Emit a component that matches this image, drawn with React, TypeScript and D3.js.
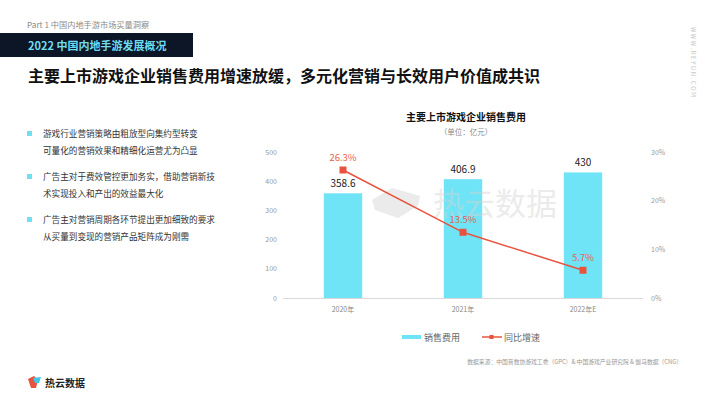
import React from "react";
import * as d3 from "d3";

const categories = ["2020年", "2021年", "2022年E"];
const salesCost = [358.6, 406.9, 430];
const growth = [26.3, 13.5, 5.7];
const leftTicks = [0, 100, 200, 300, 400, 500];
const rightTicks = [0, 10, 20, 30];
const bullets = [
  ["游戏行业营销策略由粗放型向集约型转变", "可量化的营销效果和精细化运营尤为凸显"],
  ["广告主对于费效管控更加务实，借助营销新技", "术实现投入和产出的效益最大化"],
  ["广告主对营销周期各环节提出更加细致的要求", "从买量到变现的营销产品矩阵成为刚需"],
];

const FONT = "'Noto Sans CJK SC', 'Noto Sans', sans-serif";
const CYAN = "#6fe4f6";
const RED = "#e9533e";

export default function App() {
  const x = d3.scaleBand<string>().domain(categories).range([283, 643]).paddingInner(0.68).paddingOuter(0.34);
  const yL = d3.scaleLinear().domain([0, 500]).range([298, 152]);
  const yR = d3.scaleLinear().domain([0, 30]).range([298, 152]);
  const cx = (c: string) => (x(c) as number) + x.bandwidth() / 2;
  const line = d3
    .line<number>()
    .x((_, i) => cx(categories[i]))
    .y((d) => yR(d));

  return (
    <svg
      width={710}
      height={399}
      style={{ position: "absolute", left: 0, top: 0, background: "#fff" }}
      fontFamily={FONT}
    >
      <rect width={710} height={399} fill="#fff" />
      {/* header */}
      <text x={27} y={28} fontSize={8.2} fill="#8a8a8a">Part 1  中国内地手游市场买量洞察</text>
      <rect x={0} y={33} width={193} height={24} fill="#0d1626" />
      <text x={28} y={49.5} fontSize={11} fontWeight={700} fill="#6fdcef">2022 中国内地手游发展概况</text>
      <text x={28} y={82} fontSize={16} fontWeight={700} fill="#111">
        主要上市游戏企业销售费用增速放缓，多元化营销与长效用户价值成共识
      </text>
      <text
        transform="translate(691,27) rotate(90)"
        fontSize={6}
        fill="#c8c8c8"
        letterSpacing={1.6}
      >
        WWW.REYUN.COM
      </text>

      {/* bullets */}
      {bullets.map((b, i) => (
        <g key={i}>
          <rect x={27} y={131 + i * 43} width={5} height={5} fill="#6fe0f2" />
          <text x={43} y={137 + i * 43} fontSize={8.6} fill="#333">{b[0]}</text>
          <text x={43} y={154 + i * 43} fontSize={8.6} fill="#333">{b[1]}</text>
        </g>
      ))}

      {/* chart title */}
      <text x={466} y={121} fontSize={10} fontWeight={700} fill="#111" textAnchor="middle">主要上市游戏企业销售费用</text>
      <text x={466} y={135} fontSize={7.5} fill="#888" textAnchor="middle">（单位：亿元）</text>

      {/* axes */}
      {leftTicks.map((t) => (
        <text key={t} x={277} y={yL(t) + 2.5} fontSize={7} fill="#999" textAnchor="end">{t}</text>
      ))}
      {rightTicks.map((t) => (
        <text key={t} x={651} y={yR(t) + 2.5} fontSize={7} fill="#999">{t}%</text>
      ))}
      <line x1={283} x2={643} y1={298.5} y2={298.5} stroke="#d9d9d9" strokeWidth={1} />

      {/* bars */}
      {categories.map((c, i) => (
        <g key={c}>
          <rect x={x(c)} y={yL(salesCost[i])} width={x.bandwidth()} height={yL(0) - yL(salesCost[i])} fill={CYAN} />
          <text x={cx(c)} y={yL(salesCost[i]) - 6} fontSize={10} fill="#222" textAnchor="middle">{salesCost[i]}</text>
          <text x={cx(c)} y={312} fontSize={7} fill="#888" textAnchor="middle">{c}</text>
        </g>
      ))}

      {/* watermark */}
      <g opacity={0.45} fill="#d4d4d4">
        <path d="M372,200 L392,188 L420,196 L418,206 L398,218 L375,210 Z" />
        <text x={433} y={215} fontSize={31}>热云数据</text>
      </g>

      {/* line */}
      <path d={line(growth) || ""} fill="none" stroke={RED} strokeWidth={1.5} />
      {growth.map((g, i) => (
        <g key={i}>
          <rect x={cx(categories[i]) - 3.5} y={yR(g) - 3.5} width={7} height={7} fill={RED} />
          <text x={cx(categories[i])} y={yR(g) - 9} fontSize={9.5} fill="#e8624f" textAnchor="middle">{g}%</text>
        </g>
      ))}

      {/* legend */}
      <rect x={402} y={335} width={19} height={4} fill={CYAN} />
      <text x={424} y={340.5} fontSize={9} fill="#666">销售费用</text>
      <line x1={482} x2={502} y1={337} y2={337} stroke={RED} strokeWidth={1.5} />
      <rect x={489.5} y={335} width={4} height={4} fill={RED} />
      <text x={504} y={340.5} fontSize={9} fill="#666">同比增速</text>

      {/* source */}
      <text x={682} y={364} fontSize={5.8} fill="#999" textAnchor="end">
        数据来源：中国音数协游戏工委（GPC）& 中国游戏产业研究院 & 伽马数据（CNG）
      </text>

      {/* bottom logo */}
      <g>
        <path d="M28,379 L34,376 L38,380 L36,388 L31,388 Z" fill="#e8533f" />
        <path d="M33,378 L41,377 L39,383 L35,383 Z" fill="#3fc8ea" />
        <text x={45} y={386.5} fontSize={10} fontWeight={700} fill="#222">热云数据</text>
      </g>
    </svg>
  );
}
